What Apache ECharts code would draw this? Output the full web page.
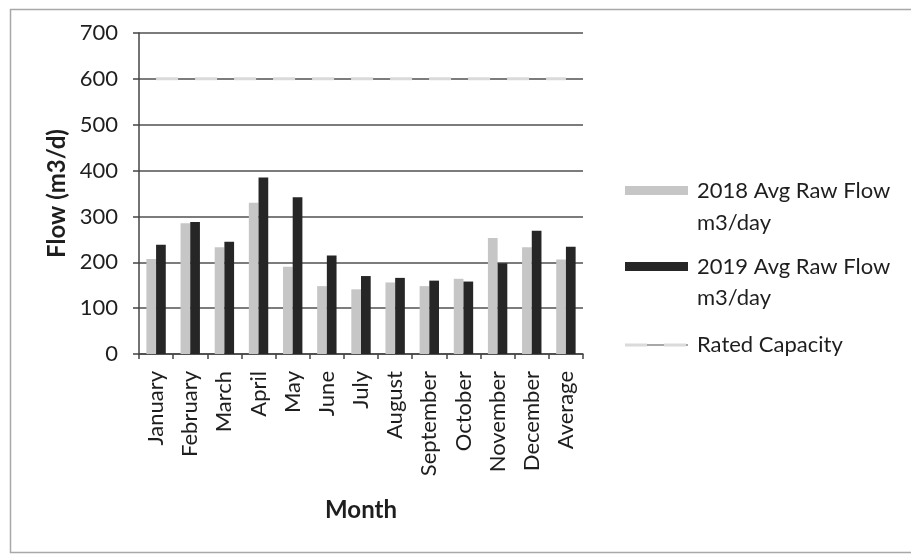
<!DOCTYPE html>
<html>
<head>
<meta charset="utf-8">
<script src="https://cdn.jsdelivr.net/npm/echarts@6/dist/echarts.min.js"></script>
<style>
  html, body { margin: 0; padding: 0; background: #fff; }
  #chart { width: 911px; height: 555px; }
</style>
</head>
<body>
<div id="chart"></div>
<script>
// Monthly raw water flow (m3/day) with plant rated capacity
const months = ['January', 'February', 'March', 'April', 'May', 'June', 'July',
  'August', 'September', 'October', 'November', 'December', 'Average'];
const flow2018 = [207, 285, 233, 330, 190, 148, 141, 156, 148, 164, 253, 233, 206];
const flow2019 = [238, 288, 245, 385, 342, 215, 170, 166, 160, 158, 198, 269, 234];
const ratedCapacity = [600, 600, 600, 600, 600, 600, 600, 600, 600, 600, 600, 600, 600];
const yTicks = [0, 100, 200, 300, 400, 500, 600, 700];

const seriesNames = ['2018 Avg Raw Flow', '2019 Avg Raw Flow', 'Rated Capacity'];
const FONT = 'Lato, "Open Sans", sans-serif';
const LABEL_SIZE = 22;
const TITLE_SIZE = 24;
const TEXT = '#1e1e1e';
const C2018 = '#c6c6c6';
const C2019 = '#262626';
const CCAP = '#dadada';

const chart = echarts.init(document.getElementById('chart'), null, { renderer: 'canvas' });

// legend built from graphic items so the swatch lines up with the first text line
const legendX = 625, textX = 697;
const legendFont = LABEL_SIZE + 'px ' + FONT;
const legendGraphics = [
  { type: 'rect', left: legendX, top: 186, shape: { width: 63, height: 9 }, style: { fill: C2018 } },
  { type: 'text', left: textX, top: 175, style: { text: seriesNames[0] + '\nm3/day', font: legendFont, lineHeight: 32, fill: TEXT } },
  { type: 'rect', left: legendX, top: 262, shape: { width: 63, height: 9 }, style: { fill: C2019 } },
  { type: 'text', left: textX, top: 251, style: { text: seriesNames[1] + '\nm3/day', font: legendFont, lineHeight: 31, fill: TEXT } },
  { type: 'line', shape: { x1: legendX, y1: 345, x2: legendX + 63, y2: 345 }, style: { stroke: '#8a8a8a', lineWidth: 1.5 } },
  { type: 'line', shape: { x1: legendX, y1: 345, x2: legendX + 63, y2: 345 }, style: { stroke: CCAP, lineWidth: 3, lineDash: [22, 17] } },
  { type: 'text', left: textX, top: 334, style: { text: seriesNames[2], font: legendFont, fill: TEXT } },
  // chart frame
  { type: 'rect', left: 8, top: 7, shape: { width: 905, height: 543 }, style: { fill: 'none', stroke: '#a8a8a8', lineWidth: 1.5 } }
];

chart.setOption({
  animation: false,
  backgroundColor: '#fff',
  grid: { left: 139, right: 328, top: 33, bottom: 201 },
  xAxis: {
    type: 'category',
    data: months,
    name: 'Month',
    nameLocation: 'middle',
    nameGap: 144,
    nameTextStyle: { fontFamily: FONT, fontSize: TITLE_SIZE, fontWeight: 'bold', color: TEXT },
    axisLine: { lineStyle: { color: '#444', width: 1.5 } },
    axisTick: { show: true, length: 5, lineStyle: { color: '#444', width: 1.5 } },
    axisLabel: { rotate: 90, margin: 17, fontFamily: FONT, fontSize: LABEL_SIZE, color: TEXT }
  },
  yAxis: {
    type: 'value',
    min: yTicks[0],
    max: yTicks[yTicks.length - 1],
    interval: 100,
    name: 'Flow (m3/d)',
    nameLocation: 'middle',
    nameRotate: 90,
    nameGap: 70,
    nameTextStyle: { fontFamily: FONT, fontSize: TITLE_SIZE, fontWeight: 'bold', color: TEXT },
    axisLine: { show: true, lineStyle: { color: '#444', width: 1.5 } },
    axisTick: { show: true, inside: false, length: 6, lineStyle: { color: '#444', width: 1.5 } },
    axisLabel: { margin: 21, fontFamily: FONT, fontSize: LABEL_SIZE, color: TEXT },
    splitLine: { show: true, lineStyle: { color: '#505050', width: 1.5 } }
  },
  series: [
    {
      name: seriesNames[0], type: 'bar', data: flow2018,
      barWidth: 9.7, barGap: '0%',
      itemStyle: { color: C2018 }
    },
    {
      name: seriesNames[1], type: 'bar', data: flow2019,
      barWidth: 9.7, barGap: '0%',
      itemStyle: { color: C2019 }
    },
    {
      name: seriesNames[2], type: 'line', data: ratedCapacity,
      symbol: 'none', z: 5,
      lineStyle: { color: CCAP, width: 3, type: [22, 17] }
    }
  ],
  graphic: legendGraphics
});
</script>
</body>
</html>
